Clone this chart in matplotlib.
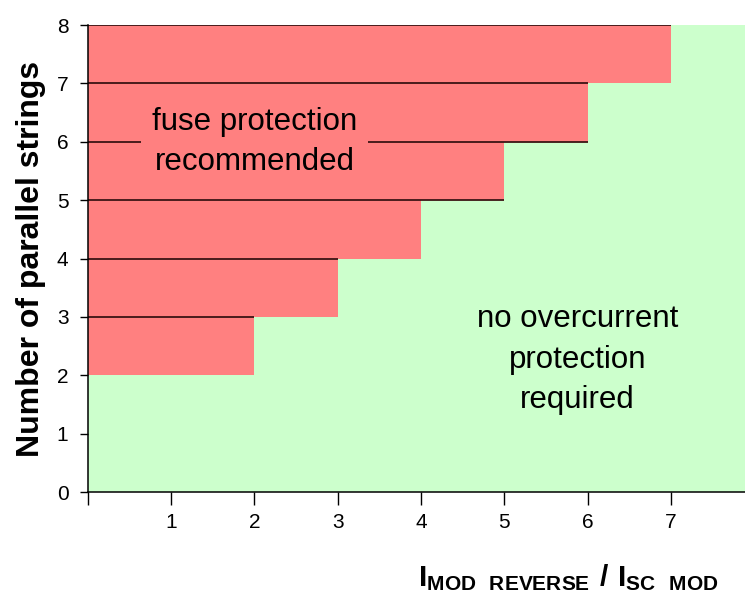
import matplotlib
matplotlib.use("Agg")
import matplotlib.pyplot as plt

plt.rcParams["font.family"] = ["Liberation Sans", "DejaVu Sans"]
plt.rcParams["mathtext.fontset"] = "custom"
plt.rcParams["mathtext.rm"] = "Liberation Sans"
plt.rcParams["mathtext.bf"] = "Liberation Sans:bold"

RED = "#FF8080"
GREEN = "#CCFFCC"
LINE = "#3b1414"

# number of parallel strings (lower edge of each red band) and the ratio limit
band_rows = [2, 3, 4, 5, 6, 7]
band_widths = [2, 3, 4, 5, 6, 7]
# dark separator lines drawn on the red bands
line_y = [3, 4, 5, 6, 7, 8]
line_len = [2, 3, 5, 6, 6, 7]

x_ticks = [0, 1, 2, 3, 4, 5, 6, 7]
x_ticklabels = ["", "1", "2", "3", "4", "5", "6", "7"]
y_ticks = [0, 1, 2, 3, 4, 5, 6, 7, 8]

fig = plt.figure(figsize=(7.45, 5.99), dpi=100)
ax = fig.add_axes([0.118, 0.1786, 0.882, 0.7796])
ax.set_facecolor(GREEN)

ax.barh(band_rows, band_widths, height=1, align="edge", color=RED, linewidth=0, zorder=1)
ax.hlines(line_y, 0, line_len, color=LINE, linewidth=1.3, zorder=2)

ax.text(2.0, 6.0, "fuse protection\nrecommended", ha="center", va="center",
        fontsize=22.5, linespacing=1.45, zorder=3,
        bbox=dict(boxstyle="square,pad=0.36", facecolor=RED, edgecolor="none"))
ax.text(5.88, 2.27, "no overcurrent\nprotection\nrequired", ha="center", va="center",
        fontsize=22.5, linespacing=1.45, zorder=3)

ax.set_xlim(0, 7.89)
ax.set_ylim(0, 8)
ax.set_xticks(x_ticks)
ax.set_xticklabels(x_ticklabels)
ax.set_yticks(y_ticks)
ax.tick_params(axis="x", length=9, width=1, pad=6, labelsize=15)
ax.tick_params(axis="y", length=6, width=1, pad=8, labelsize=15)

for s in ["top", "right"]:
    ax.spines[s].set_visible(False)
for s in ["left", "bottom"]:
    ax.spines[s].set_linewidth(1.1)
    ax.spines[s].set_zorder(4)

ax.set_ylabel("Number of parallel strings", fontsize=23, fontweight="bold")
ax.yaxis.set_label_coords(-0.064, 0.5)
ax.set_xlabel(r"$\mathbf{I_{MOD\ \ REVERSE}\ /\ I_{SC\ \ MOD}}$", fontsize=21.5)
ax.xaxis.set_label_coords(0.731, -0.15)

fig.savefig("out.png", dpi=100)
